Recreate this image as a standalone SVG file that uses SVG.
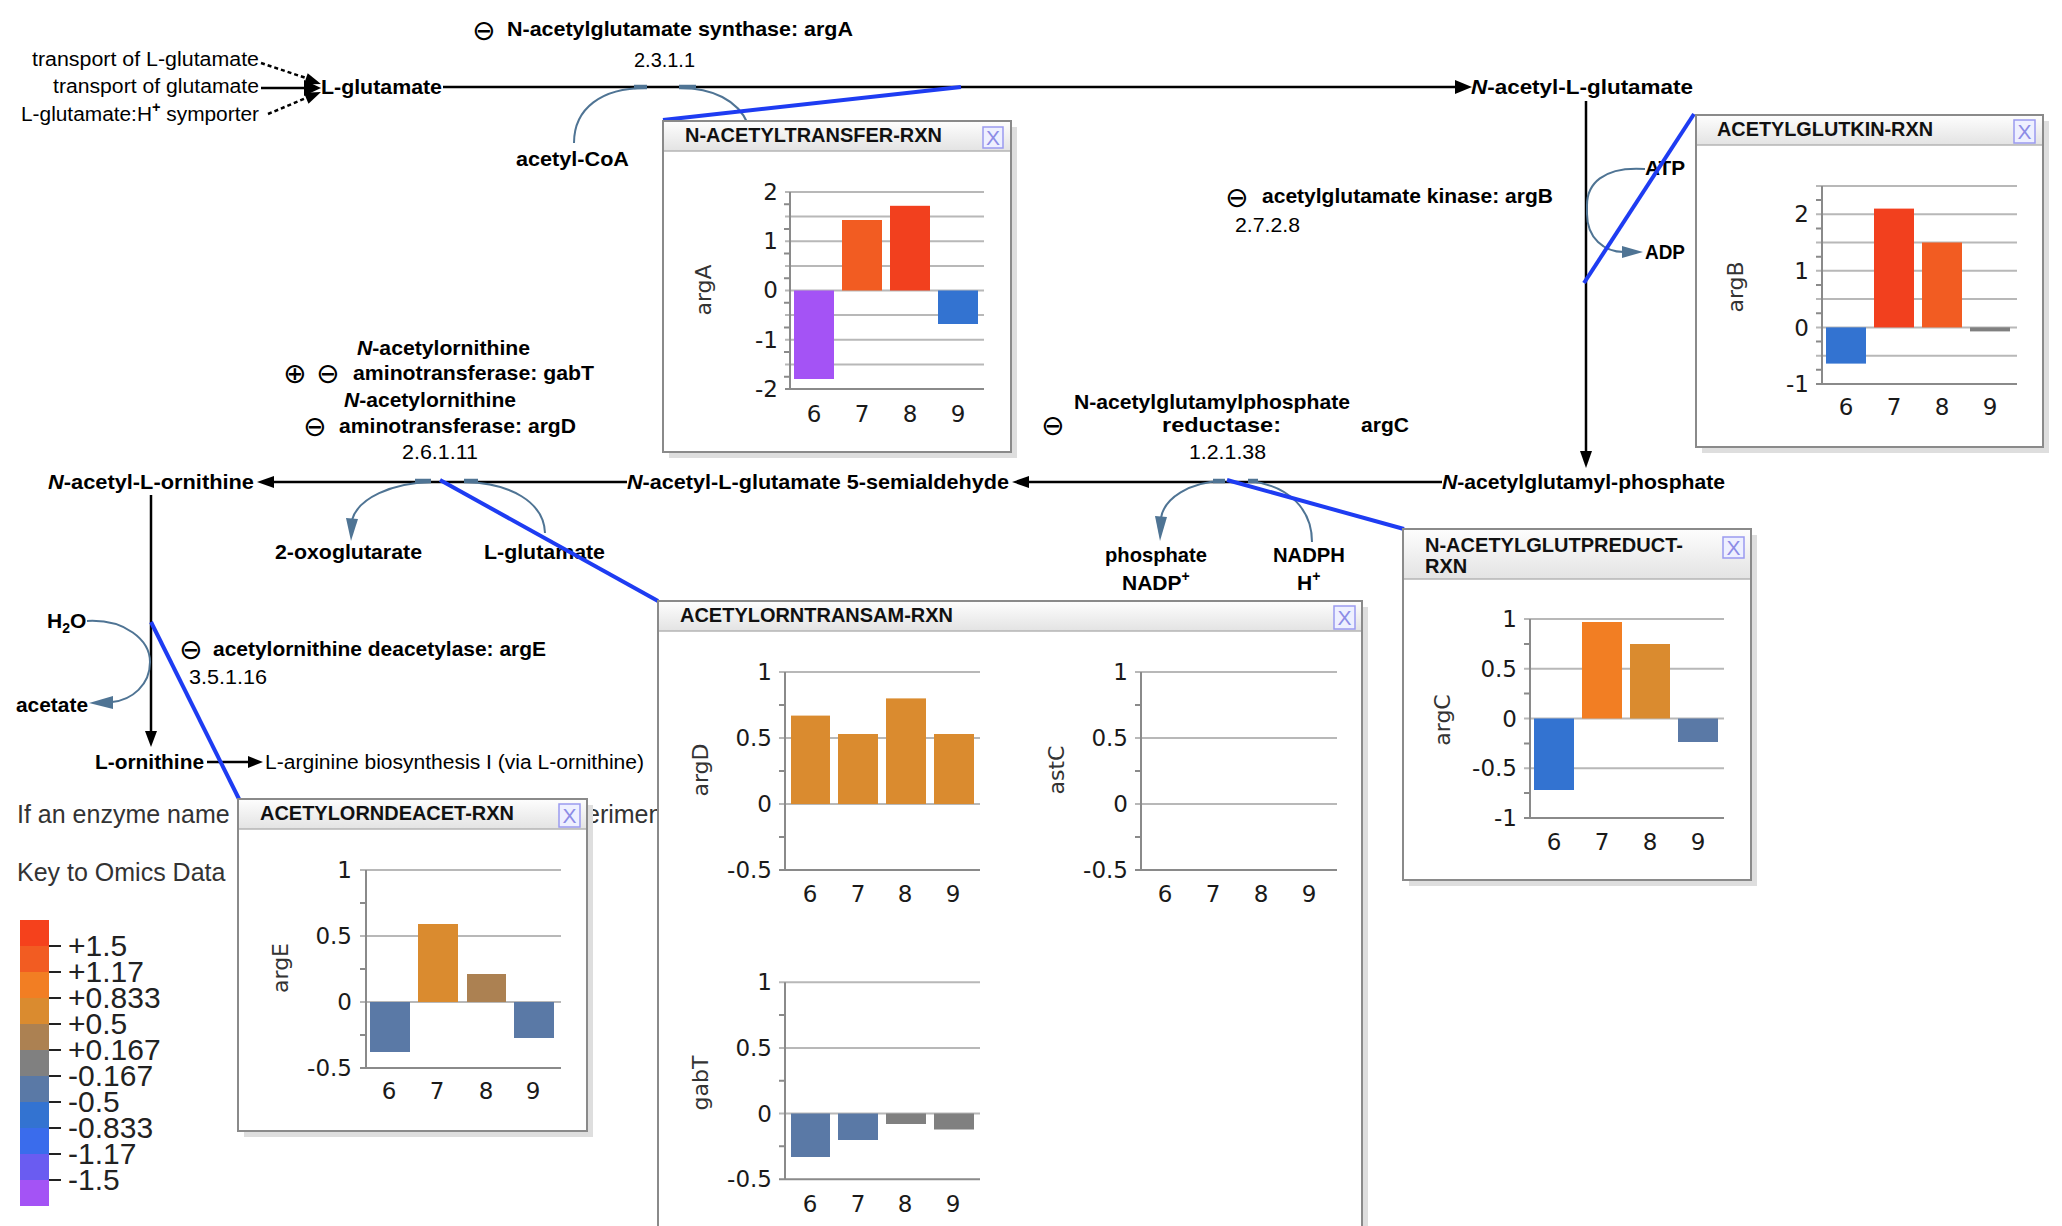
<svg xmlns="http://www.w3.org/2000/svg" width="2062" height="1226" viewBox="0 0 2062 1226">
<defs>
<style>
.lb{font-family:"Liberation Sans",Arial,sans-serif;font-weight:bold;font-size:21px;fill:#000}
.ln{font-family:"Liberation Sans",Arial,sans-serif;font-size:20px;fill:#000}
.sym{font-family:"DejaVu Sans",sans-serif;font-size:28px;fill:#000}
.tk{font-family:"DejaVu Sans",Verdana,sans-serif;font-size:23px;fill:#1a1a1a}
.tkr{font-family:"DejaVu Sans",Verdana,sans-serif;font-size:23px;fill:#1a1a1a;text-anchor:end}
.tkm{font-family:"DejaVu Sans",Verdana,sans-serif;font-size:23px;fill:#1a1a1a;text-anchor:middle}
.axl{font-family:"DejaVu Sans",Verdana,sans-serif;font-size:22px;fill:#333;text-anchor:middle}
.ttl{font-family:"Liberation Sans",Arial,sans-serif;font-weight:bold;font-size:20px;fill:#111}
.cls{font-family:"Liberation Sans",Arial,sans-serif;font-size:21px;fill:#8c8ce6;text-anchor:middle}
.leg{font-family:"Liberation Sans",Arial,sans-serif;font-size:30px;fill:#222}
.key{font-family:"Liberation Sans",Arial,sans-serif;font-size:25px;fill:#333}
.pl{stroke:#000;stroke-width:2.5;fill:none}
.arc{stroke:#4f7494;stroke-width:2;fill:none}
.arct{stroke:#4f7494;stroke-width:4.5;fill:none}
.ah{fill:#000}
.aha{fill:#4f7494}
.blue{stroke:#1e3cf2;stroke-width:4;fill:none}
.grid{stroke:#b8b8b8;stroke-width:2}
.axis{stroke:#8a8a8a;stroke-width:2}
.shadow{fill:#dedede}
.frame{fill:#fff;stroke:#8a8a8a;stroke-width:2}
.hdrline{stroke:#b5b5b5;stroke-width:1.5}
.cbtn{fill:#eef0ff;stroke:#9a9af0;stroke-width:1.5}
</style>
<linearGradient id="hdr" x1="0" y1="0" x2="0" y2="1">
<stop offset="0" stop-color="#fdfdfd"/>
<stop offset="1" stop-color="#e3e3e3"/>
</linearGradient>
</defs>
<rect x="0" y="0" width="2062" height="1226" fill="#fff"/>

<!-- connectors -->
<g id="connectors">
<path class="pl" d="M261 63 L306 78" stroke-width="1.8" stroke-dasharray="4 3"/>
<path class="pl" d="M261 88 L306 88" stroke-width="2"/>
<path class="pl" d="M268 114 L306 98" stroke-width="1.8" stroke-dasharray="4 3"/>
<polygon class="ah" points="321,84 303.9,84.6 307.7,73.2"/>
<polygon class="ah" points="321,88 304,80 304,96"/>
<polygon class="ah" points="321,92 308.5,103.7 303.9,92.7"/>
<path class="pl" d="M443 87 L1458 87"/>
<polygon class="ah" points="1455,80 1472,87 1455,94"/>
<path class="pl" d="M1586 101 L1586 455" stroke-width="2"/>
<polygon class="ah" points="1580,451 1592,451 1586,468"/>
<path class="pl" d="M272 482 L627 482"/>
<polygon class="ah" points="274,476 274,488 257,482"/>
<path class="pl" d="M1027 482 L1442 482"/>
<polygon class="ah" points="1029,476 1029,488 1012,482"/>
<path class="pl" d="M151 495 L151 733" stroke-width="2"/>
<polygon class="ah" points="145,731 157,731 151,747"/>
<path class="pl" d="M207 762 L250 762" stroke-width="2"/>
<polygon class="ah" points="248,756 248,768 263,762"/>
<!-- cofactor arcs -->
<path class="arc" d="M574 143 C574 108 602 88 645 88"/>
<path class="arc" d="M680 88 C712 88 738 100 748 124"/>
<path class="arct" d="M634 87 L647 87 M679 87 L696 87"/>
<path class="arc" d="M1645 169 C1602 166 1587 185 1587 205 L1587 214 C1587 238 1604 252 1624 252"/>
<polygon class="aha" points="1622,246 1643,252 1622,258"/>
<path class="arc" d="M431 482 C392 483 358 498 352 520"/>
<polygon class="aha" points="346,518 358,519 351,541"/>
<path class="arc" d="M465 482 C510 483 544 502 545 533"/>
<path class="arct" d="M415 481 L431 481 M464 481 L478 481"/>
<path class="arc" d="M1222 481 C1190 482 1164 498 1161 518"/>
<polygon class="aha" points="1155,516 1167,517 1160,541"/>
<path class="arc" d="M1250 481 C1290 486 1312 510 1312 542"/>
<path class="arct" d="M1213 481 L1225 481 M1248 481 L1258 481"/>
<path class="arc" d="M87 621 C125 619 150 640 150 662 C150 685 132 700 112 702"/>
<polygon class="aha" points="113,696 113,709 89,703"/>
</g>

<!-- top-left inputs -->
<g id="inputs">
<text class="ln" x="259" y="66" text-anchor="end" textLength="227" lengthAdjust="spacingAndGlyphs">transport of L-glutamate</text>
<text class="ln" x="259" y="93" text-anchor="end" textLength="206" lengthAdjust="spacingAndGlyphs">transport of glutamate</text>
<text class="ln" x="259" y="121" text-anchor="end" textLength="238" lengthAdjust="spacingAndGlyphs">L-glutamate:H<tspan dy="-9" font-size="14" font-weight="bold">+</tspan><tspan dy="9"> symporter</tspan></text>
</g>

<!-- compounds -->
<g id="c-glutamate"><text class="lb" x="321" y="94" textLength="121" lengthAdjust="spacingAndGlyphs">L-glutamate</text></g>
<g id="c-acetylglutamate"><text class="lb" x="1471" y="94" textLength="222" lengthAdjust="spacingAndGlyphs"><tspan font-style="italic">N</tspan>-acetyl-L-glutamate</text></g>
<g id="c-acetylglutamylphosphate"><text class="lb" x="1442" y="489" textLength="283" lengthAdjust="spacingAndGlyphs"><tspan font-style="italic">N</tspan>-acetylglutamyl-phosphate</text></g>
<g id="c-semialdehyde"><text class="lb" x="627" y="489" textLength="382" lengthAdjust="spacingAndGlyphs"><tspan font-style="italic">N</tspan>-acetyl-L-glutamate 5-semialdehyde</text></g>
<g id="c-acetylornithine"><text class="lb" x="48" y="489" textLength="206" lengthAdjust="spacingAndGlyphs"><tspan font-style="italic">N</tspan>-acetyl-L-ornithine</text></g>
<g id="c-ornithine"><text class="lb" x="95" y="769" textLength="109" lengthAdjust="spacingAndGlyphs">L-ornithine</text></g>
<g id="c-arginine"><text class="ln" x="265" y="769" textLength="379" lengthAdjust="spacingAndGlyphs">L-arginine biosynthesis I (via L-ornithine)</text></g>

<!-- side compounds -->
<g id="s-acetylcoa"><text class="lb" x="516" y="166" textLength="113" lengthAdjust="spacingAndGlyphs">acetyl-CoA</text></g>
<g id="s-atp"><text class="lb" x="1645" y="175" textLength="40" lengthAdjust="spacingAndGlyphs">ATP</text></g>
<g id="s-adp"><text class="lb" x="1645" y="259" textLength="40" lengthAdjust="spacingAndGlyphs">ADP</text></g>
<g id="s-oxoglutarate"><text class="lb" x="275" y="559" textLength="147" lengthAdjust="spacingAndGlyphs">2-oxoglutarate</text></g>
<g id="s-glutamate2"><text class="lb" x="484" y="559" textLength="121" lengthAdjust="spacingAndGlyphs">L-glutamate</text></g>
<g id="s-phosphate">
<text class="lb" x="1105" y="562" textLength="102" lengthAdjust="spacingAndGlyphs">phosphate</text>
<text class="lb" x="1122" y="590">NADP<tspan dy="-9" font-size="14">+</tspan></text>
</g>
<g id="s-nadph">
<text class="lb" x="1273" y="562" textLength="72" lengthAdjust="spacingAndGlyphs">NADPH</text>
<text class="lb" x="1297" y="590">H<tspan dy="-9" font-size="14">+</tspan></text>
</g>
<g id="s-water"><text class="lb" x="47" y="628">H<tspan dy="5" font-size="14">2</tspan><tspan dy="-5">O</tspan></text></g>
<g id="s-acetate"><text class="lb" x="16" y="712" textLength="72" lengthAdjust="spacingAndGlyphs">acetate</text></g>

<!-- reaction labels -->
<g id="r-argA">
<text class="sym" x="472" y="40">⊖</text>
<text class="lb" x="507" y="36" textLength="346" lengthAdjust="spacingAndGlyphs">N-acetylglutamate synthase: argA</text>
<text class="ln" x="634" y="67" textLength="61" lengthAdjust="spacingAndGlyphs">2.3.1.1</text>
</g>
<g id="r-argB">
<text class="sym" x="1225" y="207">⊖</text>
<text class="lb" x="1262" y="203" textLength="291" lengthAdjust="spacingAndGlyphs">acetylglutamate kinase: argB</text>
<text class="ln" x="1235" y="232" textLength="65" lengthAdjust="spacingAndGlyphs">2.7.2.8</text>
</g>
<g id="r-argC">
<text class="lb" x="1074" y="409" textLength="276" lengthAdjust="spacingAndGlyphs">N-acetylglutamylphosphate</text>
<text class="sym" x="1041" y="435">⊖</text>
<text class="lb" x="1162" y="432" textLength="119" lengthAdjust="spacingAndGlyphs">reductase:</text>
<text class="lb" x="1361" y="432" textLength="48" lengthAdjust="spacingAndGlyphs">argC</text>
<text class="ln" x="1189" y="459" textLength="77" lengthAdjust="spacingAndGlyphs">1.2.1.38</text>
</g>
<g id="r-argD">
<text class="lb" x="357" y="355" textLength="173" lengthAdjust="spacingAndGlyphs"><tspan font-style="italic">N</tspan>-acetylornithine</text>
<text class="sym" x="283" y="383">⊕</text>
<text class="sym" x="316" y="383">⊖</text>
<text class="lb" x="353" y="380" textLength="241" lengthAdjust="spacingAndGlyphs">aminotransferase: gabT</text>
<text class="lb" x="344" y="407" textLength="172" lengthAdjust="spacingAndGlyphs"><tspan font-style="italic">N</tspan>-acetylornithine</text>
<text class="sym" x="303" y="436">⊖</text>
<text class="lb" x="339" y="433" textLength="237" lengthAdjust="spacingAndGlyphs">aminotransferase: argD</text>
<text class="ln" x="402" y="459" textLength="76" lengthAdjust="spacingAndGlyphs">2.6.1.11</text>
</g>
<g id="r-argE">
<text class="sym" x="179" y="659">⊖</text>
<text class="lb" x="213" y="656" textLength="333" lengthAdjust="spacingAndGlyphs">acetylornithine deacetylase: argE</text>
<text class="ln" x="189" y="684" textLength="78" lengthAdjust="spacingAndGlyphs">3.5.1.16</text>
</g>

<!-- key -->
<g id="key">
<text class="key" x="17" y="823">If an enzyme name</text>
<text class="key" x="586" y="823">erimen</text>
<text class="key" x="17" y="881">Key to Omics Data</text>
<rect x="20" y="920" width="29" height="26" fill="#F5411C"/>
<rect x="20" y="946" width="29" height="26" fill="#F25C22"/>
<rect x="20" y="972" width="29" height="26" fill="#F27E23"/>
<rect x="20" y="998" width="29" height="26" fill="#DA8B2F"/>
<rect x="20" y="1024" width="29" height="26" fill="#AC8152"/>
<rect x="20" y="1050" width="29" height="26" fill="#808080"/>
<rect x="20" y="1076" width="29" height="26" fill="#5A79A6"/>
<rect x="20" y="1102" width="29" height="26" fill="#3373D1"/>
<rect x="20" y="1128" width="29" height="26" fill="#3A6CEC"/>
<rect x="20" y="1154" width="29" height="26" fill="#6A5CF1"/>
<rect x="20" y="1180" width="29" height="26" fill="#A453F5"/>
<path d="M49 946 H61 M49 972 H61 M49 998 H61 M49 1024 H61 M49 1050 H61 M49 1076 H61 M49 1102 H61 M49 1128 H61 M49 1154 H61 M49 1180 H61" stroke="#222" stroke-width="2"/>
<text class="leg" x="68" y="956">+1.5</text>
<text class="leg" x="68" y="982">+1.17</text>
<text class="leg" x="68" y="1008">+0.833</text>
<text class="leg" x="68" y="1034">+0.5</text>
<text class="leg" x="68" y="1060">+0.167</text>
<text class="leg" x="68" y="1086">-0.167</text>
<text class="leg" x="68" y="1112">-0.5</text>
<text class="leg" x="68" y="1138">-0.833</text>
<text class="leg" x="68" y="1164">-1.17</text>
<text class="leg" x="68" y="1190">-1.5</text>
</g>

<!-- links from reactions to charts -->
<g id="links">
<path class="blue" d="M663 120 L961 87"/>
<path class="blue" d="M1584 283 L1694 114"/>
<path class="blue" d="M440 480 L658 601"/>
<path class="blue" d="M1227 480 L1404 529"/>
<path class="blue" d="M151 622 L239 799"/>
</g>

<!-- box A -->
<g id="box-N-ACETYLTRANSFER-RXN">
<rect class="shadow" x="669" y="127" width="348" height="331"/>
<rect class="frame" x="663" y="121" width="348" height="331"/>
<rect x="664" y="122" width="346" height="29" fill="url(#hdr)"/>
<line class="hdrline" x1="664" y1="151" x2="1010" y2="151"/>
<text class="ttl" x="685" y="142" textLength="257" lengthAdjust="spacingAndGlyphs">N-ACETYLTRANSFER-RXN</text>
<rect class="cbtn" x="983" y="127" width="20" height="21"/>
<text class="cls" x="993" y="145">X</text>
<path class="grid" d="M785 192 H984 M785 216.6 H984 M785 241.3 H984 M785 265.9 H984 M785 290.5 H984 M785 315.1 H984 M785 339.8 H984 M785 364.4 H984"/>
<path class="axis" d="M784 204.3 H790 M784 228.9 H790 M784 253.6 H790 M784 278.2 H790 M784 302.8 H790 M784 327.4 H790 M784 352.1 H790 M784 376.7 H790 M785 389 H984 M790 192 V389"/>
<rect x="794" y="290.5" width="40" height="88.5" fill="#A453F5"/>
<rect x="842" y="220" width="40" height="70.5" fill="#F25C22"/>
<rect x="890" y="205.8" width="40" height="84.7" fill="#F2401E"/>
<rect x="938" y="290.5" width="40" height="33.5" fill="#3373D1"/>
<text class="tkr" x="778" y="200">2</text>
<text class="tkr" x="778" y="249">1</text>
<text class="tkr" x="778" y="298">0</text>
<text class="tkr" x="778" y="348">-1</text>
<text class="tkr" x="778" y="397">-2</text>
<text class="tkm" x="814" y="422">6</text>
<text class="tkm" x="862" y="422">7</text>
<text class="tkm" x="910" y="422">8</text>
<text class="tkm" x="958" y="422">9</text>
<text class="axl" transform="translate(711,290) rotate(-90)">argA</text>
</g>

<!-- box B -->
<g id="box-ACETYLGLUTKIN-RXN">
<rect class="shadow" x="1702" y="121" width="347" height="332"/>
<rect class="frame" x="1696" y="115" width="347" height="332"/>
<rect x="1697" y="116" width="345" height="29" fill="url(#hdr)"/>
<line class="hdrline" x1="1697" y1="145" x2="2042" y2="145"/>
<text class="ttl" x="1717" y="136" textLength="216" lengthAdjust="spacingAndGlyphs">ACETYLGLUTKIN-RXN</text>
<rect class="cbtn" x="2014" y="120" width="21" height="23"/>
<text class="cls" x="2024.5" y="139">X</text>
<path class="grid" d="M1816 186 H2017 M1816 214.3 H2017 M1816 242.5 H2017 M1816 270.8 H2017 M1816 299.1 H2017 M1816 327.4 H2017 M1816 355.7 H2017"/>
<path class="axis" d="M1816 200.1 H1822 M1816 228.4 H1822 M1816 256.7 H1822 M1816 285 H1822 M1816 313.3 H1822 M1816 341.5 H1822 M1816 369.8 H1822 M1816 384 H2017 M1822 186 V384"/>
<rect x="1826" y="327.4" width="40" height="36.2" fill="#3373D1"/>
<rect x="1874" y="208.6" width="40" height="118.8" fill="#F2401E"/>
<rect x="1922" y="242.5" width="40" height="84.9" fill="#F25C22"/>
<rect x="1970" y="327.4" width="40" height="4" fill="#808080"/>
<text class="tkr" x="1809" y="222">2</text>
<text class="tkr" x="1809" y="279">1</text>
<text class="tkr" x="1809" y="336">0</text>
<text class="tkr" x="1809" y="392">-1</text>
<text class="tkm" x="1846" y="415">6</text>
<text class="tkm" x="1894" y="415">7</text>
<text class="tkm" x="1942" y="415">8</text>
<text class="tkm" x="1990" y="415">9</text>
<text class="axl" transform="translate(1743,287) rotate(-90)">argB</text>
</g>

<!-- box C -->
<g id="box-N-ACETYLGLUTPREDUCT-RXN">
<rect class="shadow" x="1409" y="535" width="348" height="351"/>
<rect class="frame" x="1403" y="529" width="348" height="351"/>
<rect x="1404" y="530" width="346" height="49" fill="url(#hdr)"/>
<line class="hdrline" x1="1404" y1="579" x2="1750" y2="579"/>
<text class="ttl" x="1425" y="552" font-size="19" textLength="258" lengthAdjust="spacingAndGlyphs">N-ACETYLGLUTPREDUCT-</text>
<text class="ttl" x="1425" y="573" font-size="19">RXN</text>
<rect class="cbtn" x="1723" y="537" width="21" height="21"/>
<text class="cls" x="1733.5" y="555">X</text>
<path class="grid" d="M1524 619 H1724 M1524 668.8 H1724 M1524 718.5 H1724 M1524 768.3 H1724"/>
<path class="axis" d="M1524 643.9 H1530 M1524 693.6 H1530 M1524 743.4 H1530 M1524 793.1 H1530 M1524 818 H1724 M1530 619 V818"/>
<rect x="1534" y="718.5" width="40" height="71.5" fill="#3373D1"/>
<rect x="1582" y="622" width="40" height="96.5" fill="#F27E23"/>
<rect x="1630" y="644" width="40" height="74.5" fill="#DA8B2F"/>
<rect x="1678" y="718.5" width="40" height="23.5" fill="#5A79A6"/>
<text class="tkr" x="1517" y="627">1</text>
<text class="tkr" x="1517" y="677">0.5</text>
<text class="tkr" x="1517" y="727">0</text>
<text class="tkr" x="1517" y="776">-0.5</text>
<text class="tkr" x="1517" y="826">-1</text>
<text class="tkm" x="1554" y="850">6</text>
<text class="tkm" x="1602" y="850">7</text>
<text class="tkm" x="1650" y="850">8</text>
<text class="tkm" x="1698" y="850">9</text>
<text class="axl" transform="translate(1450,720) rotate(-90)">argC</text>
</g>

<!-- box D -->
<g id="box-ACETYLORNTRANSAM-RXN">
<rect class="shadow" x="664" y="607" width="704" height="640"/>
<rect class="frame" x="658" y="601" width="704" height="640" fill="#f1f1f1"/>
<rect x="659" y="602" width="702" height="29" fill="url(#hdr)"/>
<line class="hdrline" x1="659" y1="631" x2="1361" y2="631"/>
<text class="ttl" x="680" y="622" textLength="273" lengthAdjust="spacingAndGlyphs">ACETYLORNTRANSAM-RXN</text>
<rect class="cbtn" x="1334" y="606" width="21" height="23"/>
<text class="cls" x="1344.5" y="625">X</text>
<rect x="659" y="632" width="347" height="300" fill="#fff"/>
<rect x="1016" y="632" width="345" height="300" fill="#fff"/>
<rect x="659" y="942" width="347" height="290" fill="#fff"/>
<!-- argD -->
<path class="grid" d="M779 672 H980 M779 738 H980 M779 804 H980"/>
<path class="axis" d="M779 705 H785 M779 771 H785 M779 837 H785 M779 870 H980 M785 672 V870"/>
<rect x="791" y="715.6" width="39" height="88.4" fill="#DA8B2F"/>
<rect x="838" y="734" width="40" height="70" fill="#DA8B2F"/>
<rect x="886" y="698.4" width="40" height="105.6" fill="#DA8B2F"/>
<rect x="934" y="734" width="40" height="70" fill="#DA8B2F"/>
<text class="tkr" x="772" y="680">1</text>
<text class="tkr" x="772" y="746">0.5</text>
<text class="tkr" x="772" y="812">0</text>
<text class="tkr" x="772" y="878">-0.5</text>
<text class="tkm" x="810" y="902">6</text>
<text class="tkm" x="858" y="902">7</text>
<text class="tkm" x="905" y="902">8</text>
<text class="tkm" x="953" y="902">9</text>
<text class="axl" transform="translate(708,770) rotate(-90)">argD</text>
<!-- astC -->
<path class="grid" d="M1135 672 H1337 M1135 738 H1337 M1135 804 H1337"/>
<path class="axis" d="M1135 705 H1141 M1135 771 H1141 M1135 837 H1141 M1135 870 H1337 M1141 672 V870"/>
<text class="tkr" x="1128" y="680">1</text>
<text class="tkr" x="1128" y="746">0.5</text>
<text class="tkr" x="1128" y="812">0</text>
<text class="tkr" x="1128" y="878">-0.5</text>
<text class="tkm" x="1165" y="902">6</text>
<text class="tkm" x="1213" y="902">7</text>
<text class="tkm" x="1261" y="902">8</text>
<text class="tkm" x="1309" y="902">9</text>
<text class="axl" transform="translate(1064,770) rotate(-90)">astC</text>
<!-- gabT -->
<path class="grid" d="M779 982.2 H980 M779 1047.9 H980 M779 1113.5 H980"/>
<path class="axis" d="M779 1015 H785 M779 1080.7 H785 M779 1146.3 H785 M779 1179.2 H980 M785 982.2 V1179.2"/>
<rect x="791" y="1113.5" width="39" height="43.5" fill="#5A79A6"/>
<rect x="838" y="1113.5" width="40" height="26.5" fill="#5A79A6"/>
<rect x="886" y="1113.5" width="40" height="10.5" fill="#808080"/>
<rect x="934" y="1113.5" width="40" height="16" fill="#808080"/>
<text class="tkr" x="772" y="990">1</text>
<text class="tkr" x="772" y="1056">0.5</text>
<text class="tkr" x="772" y="1122">0</text>
<text class="tkr" x="772" y="1187">-0.5</text>
<text class="tkm" x="810" y="1212">6</text>
<text class="tkm" x="858" y="1212">7</text>
<text class="tkm" x="905" y="1212">8</text>
<text class="tkm" x="953" y="1212">9</text>
<text class="axl" transform="translate(708,1083) rotate(-90)">gabT</text>
</g>

<!-- box E -->
<g id="box-ACETYLORNDEACET-RXN">
<rect class="shadow" x="244" y="805" width="349" height="332"/>
<rect class="frame" x="238" y="799" width="349" height="332"/>
<rect x="239" y="800" width="347" height="29" fill="url(#hdr)"/>
<line class="hdrline" x1="239" y1="829" x2="586" y2="829"/>
<text class="ttl" x="260" y="820" textLength="254" lengthAdjust="spacingAndGlyphs">ACETYLORNDEACET-RXN</text>
<rect class="cbtn" x="559" y="804" width="21" height="23"/>
<text class="cls" x="569.5" y="823">X</text>
<path class="grid" d="M360 870 H561 M360 936 H561 M360 1002 H561"/>
<path class="axis" d="M360 903 H366 M360 969 H366 M360 1035 H366 M360 1068 H561 M366 870 V1068"/>
<rect x="370" y="1002" width="40" height="50" fill="#5A79A6"/>
<rect x="418" y="924" width="40" height="78" fill="#DA8B2F"/>
<rect x="467" y="974" width="39" height="28" fill="#AC8152"/>
<rect x="514" y="1002" width="40" height="36" fill="#5A79A6"/>
<text class="tkr" x="352" y="878">1</text>
<text class="tkr" x="352" y="944">0.5</text>
<text class="tkr" x="352" y="1010">0</text>
<text class="tkr" x="352" y="1076">-0.5</text>
<text class="tkm" x="389" y="1099">6</text>
<text class="tkm" x="437" y="1099">7</text>
<text class="tkm" x="486" y="1099">8</text>
<text class="tkm" x="533" y="1099">9</text>
<text class="axl" transform="translate(288,968) rotate(-90)">argE</text>
</g>
</svg>
